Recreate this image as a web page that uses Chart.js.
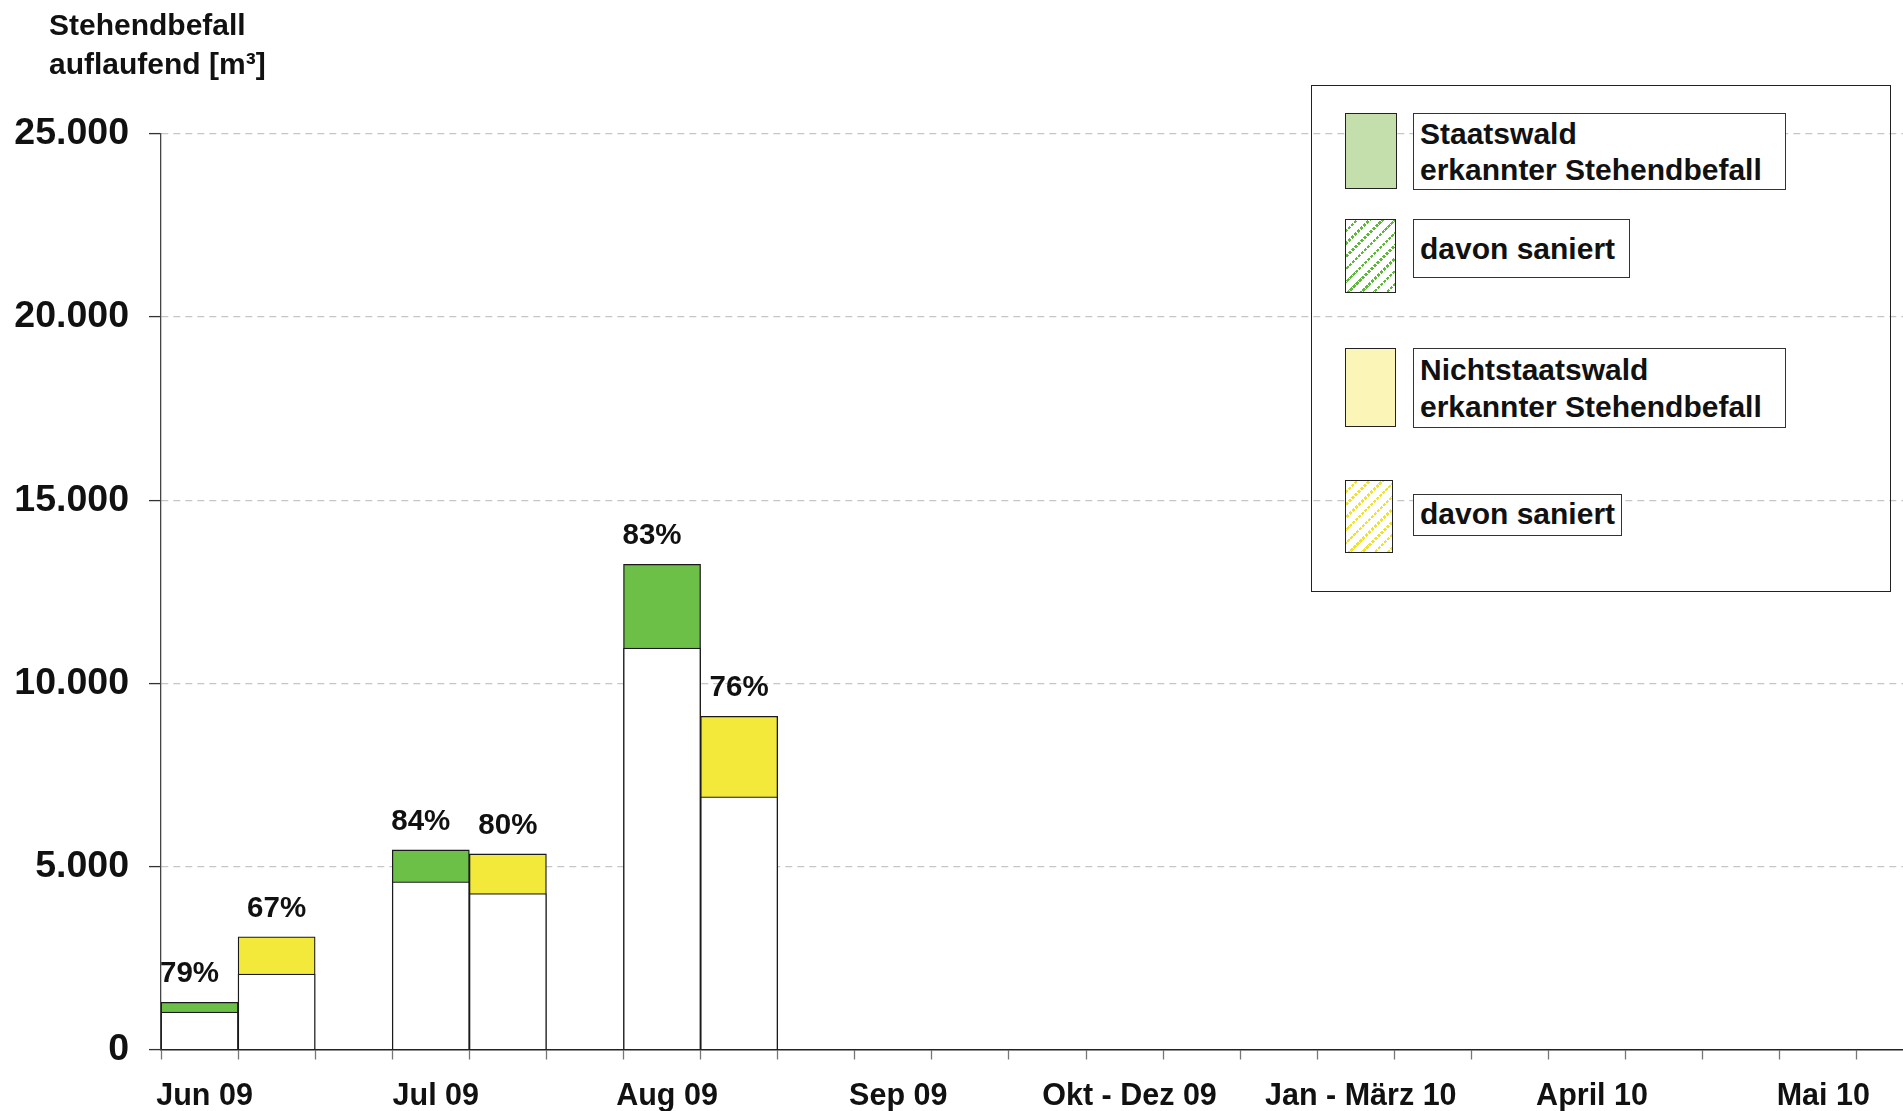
<!DOCTYPE html>
<html>
<head>
<meta charset="utf-8">
<script src="https://cdn.jsdelivr.net/npm/chart.js@4"></script>
<style>
html,body{margin:0;padding:0;background:#fff;overflow:hidden;width:1903px;height:1111px;}
#wrap{position:relative;width:1903px;height:1111px;overflow:hidden;}
#c{position:absolute;left:0;top:0;}
.t{position:absolute;font-family:'Liberation Sans',Arial,Helvetica,sans-serif;font-weight:bold;color:#111;font-size:30px;white-space:nowrap;box-sizing:border-box;}
.box{position:absolute;box-sizing:border-box;}
#legend{left:1311px;top:85px;width:580px;height:507px;border:1.6px solid #222;}
.sw{border:1.5px solid #222;}
.tb{border:1.5px solid #333;background:#fff;padding-left:6px;}
.hatchG{background:
  repeating-linear-gradient(45deg, rgba(255,255,255,0) 0px, rgba(255,255,255,0) 3px, #fff 3px, #fff 4.2px),
  repeating-linear-gradient(135deg, #fff 0px, #fff 6.5px, #5fb83a 6.5px, #5fb83a 9px);}
.hatchY{background:
  repeating-linear-gradient(45deg, rgba(255,255,255,0) 0px, rgba(255,255,255,0) 3px, #fff 3px, #fff 4.2px),
  repeating-linear-gradient(135deg, #fff 0px, #fff 6.5px, #eee22a 6.5px, #eee22a 9px);}
</style>
</head>
<body>
<div id="wrap">
  <canvas id="c" width="2040" height="1111" style="width:2040px;height:1111px;"></canvas>
  <div class="t" style="left:49px;top:5px;line-height:39px;">Stehendbefall<br>auflaufend [m³]</div>

  <div id="legend" class="box"></div>
  <div class="box sw" style="left:1345px;top:113px;width:52px;height:76px;background:#c4dfac;"></div>
  <div class="t tb" style="left:1413px;top:113px;width:373px;height:77px;line-height:36px;padding-top:1.5px;">Staatswald<br>erkannter Stehendbefall</div>

  <div class="box sw hatchG" style="left:1345px;top:219px;width:51px;height:74px;"></div>
  <div class="t tb" style="left:1413px;top:219px;width:217px;height:59px;line-height:36px;padding-top:11px;">davon saniert</div>

  <div class="box sw" style="left:1345px;top:348px;width:51px;height:79px;background:#fbf6b8;"></div>
  <div class="t tb" style="left:1413px;top:348px;width:373px;height:80px;line-height:37px;padding-top:1.5px;">Nichtstaatswald<br>erkannter Stehendbefall</div>

  <div class="box sw hatchY" style="left:1345px;top:480px;width:48px;height:73px;"></div>
  <div class="t tb" style="left:1413px;top:494px;width:209px;height:42px;line-height:36px;padding-top:1px;">davon saniert</div>
</div>
<script>
// ---- data ----
const months = ['Jun 09', 'Jul 09', 'Aug 09', 'Sep 09', 'Okt - Dez 09', 'Jan - März 10', 'April 10', 'Mai 10'];
const staatErkannt = [1290, 5450, 13250, null, null, null, null, null];
const staatSaniert = [1020, 4580, 10960, null, null, null, null, null];
const nichtErkannt = [3080, 5340, 9100, null, null, null, null, null];
const nichtSaniert = [2060, 4260, 6900, null, null, null, null, null];
const staatPct = ['79%', '84%', '83%', null, null, null, null, null];
const nichtPct = ['67%', '80%', '76%', null, null, null, null, null];
const yTickValues = [0, 5000, 10000, 15000, 20000, 25000];
const yTickLabels = ['0', '5.000', '10.000', '15.000', '20.000', '25.000'];

// ---- build slot table: each month = [Staatswald, Nichtstaatswald, gap] ----
const SLOTS_PER_MONTH = 3;
const slotLabels = [];
months.forEach(m => { slotLabels.push(m, '', ''); });
function toSlots(arr, offset) {
  const out = new Array(months.length * SLOTS_PER_MONTH).fill(null);
  arr.forEach((v, i) => { out[i * SLOTS_PER_MONTH + offset] = v; });
  return out;
}
const FONT = "'Liberation Sans', Arial, Helvetica, sans-serif";

// dataset index -> [labels, horizontal shift]
const pctLabels = {
  2: { labels: toSlots(staatPct, 0), dx: -10 },
  3: { labels: toSlots(nichtPct, 1), dx: 0 }
};

const pctPlugin = {
  id: 'pctLabels',
  afterDatasetsDraw(chart) {
    const ctx = chart.ctx;
    ctx.save();
    ctx.font = 'bold 29.5px ' + FONT;
    ctx.fillStyle = '#111';
    ctx.textAlign = 'center';
    ctx.textBaseline = 'alphabetic';
    Object.keys(pctLabels).forEach(di => {
      const meta = chart.getDatasetMeta(+di);
      const cfg = pctLabels[di];
      meta.data.forEach((el, i) => {
        if (cfg.labels[i] == null) return;
        ctx.fillText(cfg.labels[i], el.x + cfg.dx, el.y - 20);
      });
    });
    ctx.restore();
  }
};

const barCommon = {
  borderColor: '#1a1a1a',
  borderWidth: 1.3,
  borderSkipped: 'start',
  categoryPercentage: 1.0,
  barPercentage: 1.0,
  grouped: false
};

new Chart(document.getElementById('c'), {
  type: 'bar',
  data: {
    labels: slotLabels,
    datasets: [
      Object.assign({ label: 'Staatswald davon saniert', data: toSlots(staatSaniert, 0), backgroundColor: '#ffffff' }, barCommon),
      Object.assign({ label: 'Nichtstaatswald davon saniert', data: toSlots(nichtSaniert, 1), backgroundColor: '#ffffff' }, barCommon),
      Object.assign({ label: 'Staatswald erkannter Stehendbefall', data: toSlots(staatErkannt, 0), backgroundColor: '#6cbf47' }, barCommon),
      Object.assign({ label: 'Nichtstaatswald erkannter Stehendbefall', data: toSlots(nichtErkannt, 1), backgroundColor: '#f3e93b' }, barCommon)
    ]
  },
  options: {
    responsive: false,
    animation: false,
    devicePixelRatio: 1,
    layout: { padding: { left: 0, top: 134, right: 29, bottom: 0 } },
    plugins: { legend: { display: false }, tooltip: { enabled: false }, title: { display: false } },
    scales: {
      x: {
        offset: true,
        grid: { offset: true, drawOnChartArea: false, drawTicks: true, tickLength: 10, tickColor: '#777', tickWidth: 1.3 },
        border: { display: true, color: '#222', width: 1.5 },
        ticks: {
          autoSkip: false, maxRotation: 0, minRotation: 0, padding: 19, labelOffset: 5,
          color: '#111', font: { family: FONT, size: 30.5, weight: 'bold' }
        },
        afterFit: s => { s.height = 61.5; }
      },
      y: {
        min: 0, max: 25000,
        afterBuildTicks: s => { s.ticks = yTickValues.map(v => ({ value: v })); },
        ticks: {
          padding: 20, color: '#111',
          font: { family: FONT, size: 37.5, weight: 'bold' },
          callback: (v) => { const i = yTickValues.indexOf(v); return i >= 0 ? yTickLabels[i] : ''; }
        },
        grid: {
          color: c => (c.tick && c.tick.value === 0) ? 'rgba(0,0,0,0)' : '#c6c6c6',
          lineWidth: 1.2, drawTicks: true, tickLength: 12, tickColor: '#333', tickWidth: 1.3, tickBorderDash: []
        },
        border: { display: true, color: '#444', width: 1.3, dash: [7, 5] },
        afterFit: s => { s.width = 161; }
      }
    }
  },
  plugins: [pctPlugin]
});
</script>
</body>
</html>
